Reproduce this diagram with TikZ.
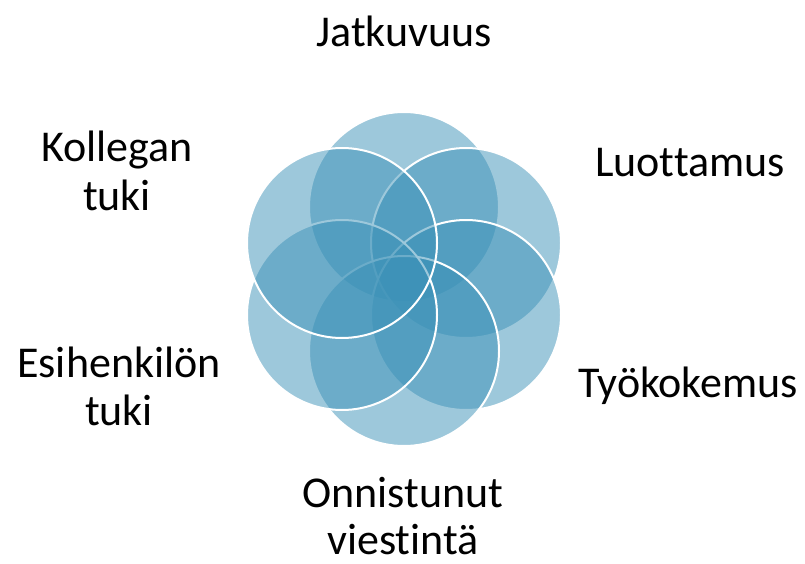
\documentclass[tikz,border=0pt]{standalone}
\usepackage{fontspec}
\setmainfont{Carlito}[Ligatures={NoCommon}]
\definecolor{petalblue}{RGB}{60,146,184}
\begin{document}
\begin{tikzpicture}[x=1pt,y=-1pt,
  petal/.style={circle,inner sep=0pt,minimum size=190pt,fill=petalblue,fill opacity=0.5,draw=white,line width=2pt},
  lbl/.style={anchor=base,inner sep=0pt,font=\fontsize{44}{48}\selectfont}]
\useasboundingbox[fill=white] (0,0) rectangle (805,564);
\node[petal] (c1) at (404,207) {};
\node[petal] (c2) at (466,243) {};
\node[petal] (c3) at (466,315) {};
\node[petal] (c4) at (404,351) {};
\node[petal] (c5) at (342,315) {};
\node[petal] (c6) at (342,243) {};
\node[lbl] (t1) at (404,47) {Jatkuvuus};
\node[lbl] (t2) at (690,177) {Luottamus};
\node[lbl] (t3) at (688,397) {Työkokemus};
\node[lbl] (t4a) at (403,507) {Onnistunut};
\node[lbl] (t4b) at (403,554) {viestintä};
\node[lbl] (t5a) at (119,377) {Esihenkilön};
\node[lbl] (t5b) at (119,425) {tuki};
\node[lbl] (t6a) at (117,162) {Kollegan};
\node[lbl] (t6b) at (117,210) {tuki};
\end{tikzpicture}
\end{document}
